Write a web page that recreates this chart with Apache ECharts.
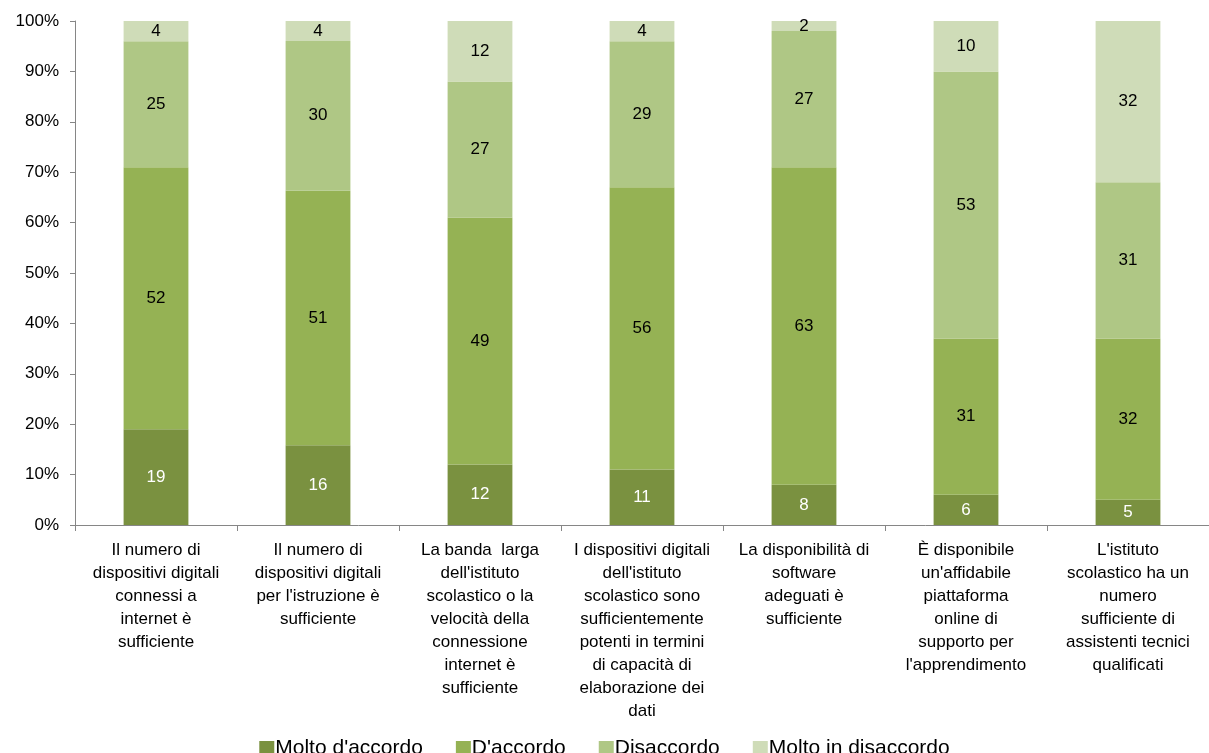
<!DOCTYPE html>
<html>
<head>
<meta charset="utf-8">
<script src="https://cdn.jsdelivr.net/npm/echarts@6/dist/echarts.min.js"></script>
<style>html,body{margin:0;padding:0;background:#fff}#c{width:1209px;height:753px}</style>
</head>
<body>
<div id="c"></div>
<script>
const categories = [
  "Il numero di\ndispositivi digitali\nconnessi a\ninternet è\nsufficiente",
  "Il numero di\ndispositivi digitali\nper l'istruzione è\nsufficiente",
  "La banda  larga\ndell'istituto\nscolastico o la\nvelocità della\nconnessione\ninternet è\nsufficiente",
  "I dispositivi digitali\ndell'istituto\nscolastico sono\nsufficientemente\npotenti in termini\ndi capacità di\nelaborazione dei\ndati",
  "La disponibilità di\nsoftware\nadeguati è\nsufficiente",
  "È disponibile\nun'affidabile\npiattaforma\nonline di\nsupporto per\nl'apprendimento",
  "L'istituto\nscolastico ha un\nnumero\nsufficiente di\nassistenti tecnici\nqualificati"
];
const seriesNames = ["Molto d'accordo", "D'accordo", "Disaccordo", "Molto in disaccordo"];
const moltoAccordo = [19, 16, 12, 11, 8, 6, 5];
const accordo = [52, 51, 49, 56, 63, 31, 32];
const disaccordo = [25, 30, 27, 29, 27, 53, 31];
const moltoDisaccordo = [4, 4, 12, 4, 2, 10, 32];
const yTicks = [0, 10, 20, 30, 40, 50, 60, 70, 80, 90, 100];

const raw = [moltoAccordo, accordo, disaccordo, moltoDisaccordo];
const totals = categories.map((_, i) => raw.reduce((s, a) => s + a[i], 0));
const colors = ['#7A9140', '#95B254', '#AFC785', '#CFDCB8'];
const labelColors = ['#ffffff', '#000000', '#000000', '#000000'];
const FONT = "'Liberation Sans', Arial, sans-serif";

const chart = echarts.init(document.getElementById('c'), null, {renderer: 'canvas'});
chart.setOption({
  animation: false,
  textStyle: {fontFamily: FONT},
  color: colors,
  grid: {left: 75, right: 0, top: 21, bottom: 228, containLabel: false},
  legend: {
    data: seriesNames,
    top: 733,
    left: 'center',
    itemWidth: 15, itemHeight: 15, itemGap: 33,
    icon: 'rect',
    textStyle: {fontSize: 21, color: '#000', fontFamily: FONT, padding: [0, 0, 0, -4]}
  },
  xAxis: {
    type: 'category',
    data: categories,
    axisLine: {lineStyle: {color: '#868686', width: 1}},
    axisTick: {show: true, length: 6, lineStyle: {color: '#868686'}},
    axisLabel: {interval: 0, fontSize: 17, lineHeight: 23, margin: 14, color: '#000', fontFamily: FONT}
  },
  yAxis: {
    type: 'value',
    min: yTicks[0], max: yTicks[yTicks.length - 1], interval: 10,
    axisLine: {show: true, lineStyle: {color: '#868686', width: 1}},
    axisTick: {show: true, length: 5, lineStyle: {color: '#868686'}},
    splitLine: {show: false},
    axisLabel: {formatter: '{value}%', fontSize: 17, margin: 16, color: '#000', fontFamily: FONT}
  },
  series: raw.map((arr, k) => ({
    name: seriesNames[k],
    type: 'bar',
    stack: 'total',
    barCategoryGap: '60%',
    data: arr.map((v, i) => ({value: v / totals[i] * 100, raw: v})),
    label: {
      show: true,
      position: 'inside',
      fontSize: 17,
      color: labelColors[k],
      fontFamily: FONT,
      formatter: p => String(p.data.raw)
    }
  }))
});
</script>
</body>
</html>
